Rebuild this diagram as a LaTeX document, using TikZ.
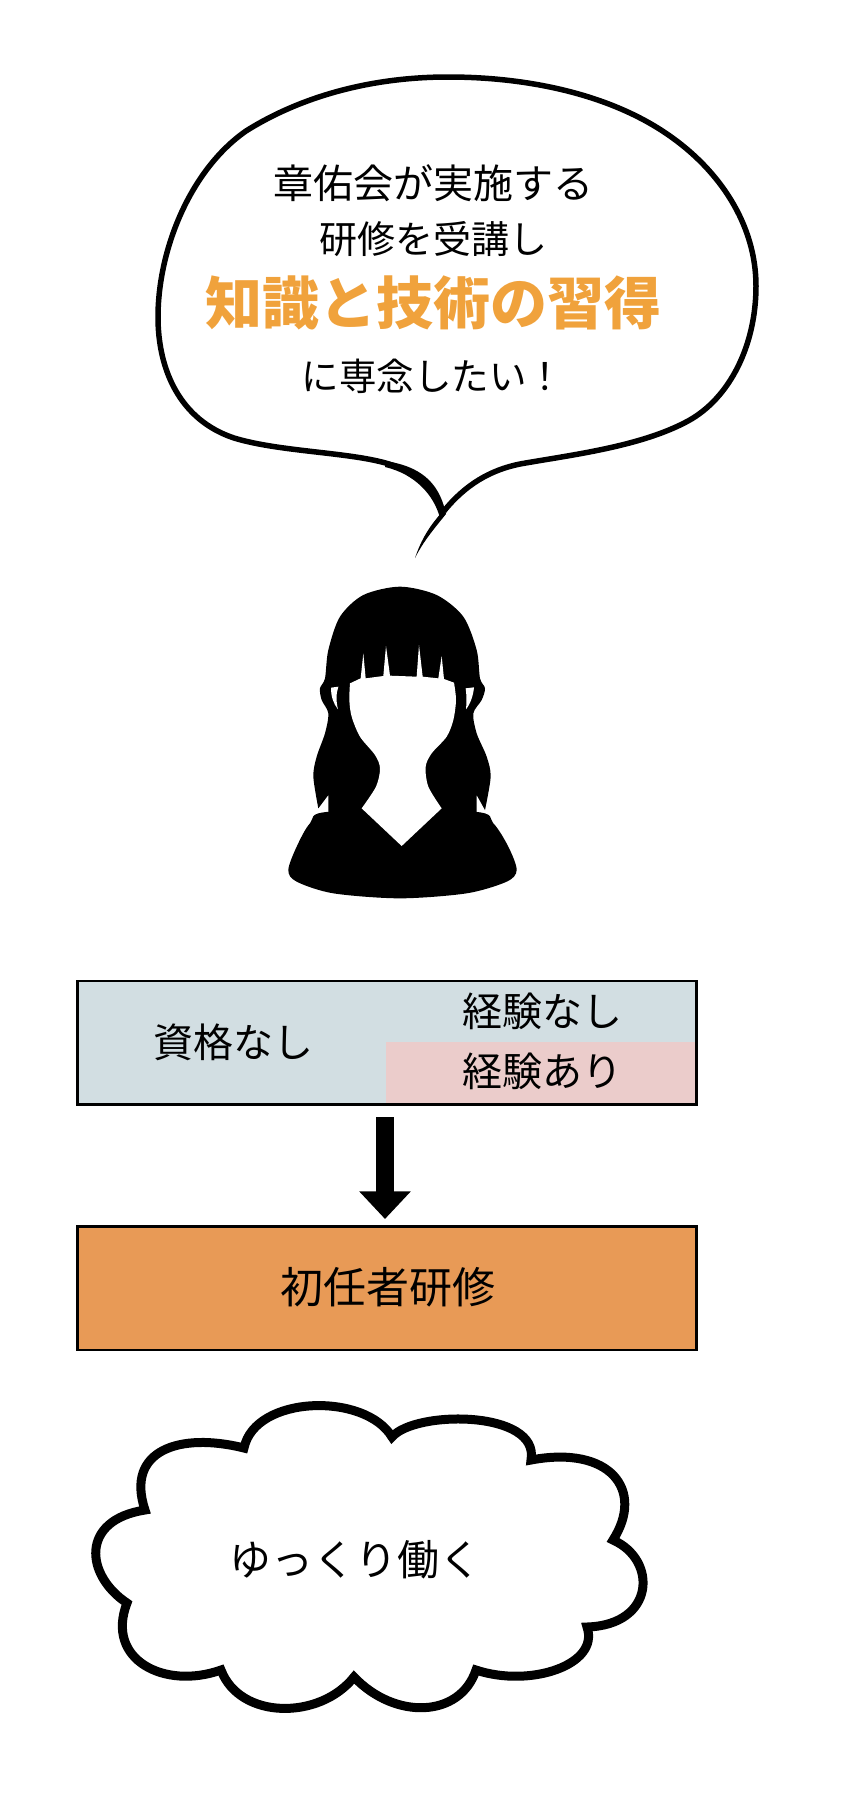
\documentclass[tikz,border=0pt]{standalone}
\usepackage{fontspec}
\setmainfont{Noto Sans CJK JP}
\usetikzlibrary{arrows.meta}
\definecolor{boxblue}{HTML}{D2DEE2}
\definecolor{boxpink}{HTML}{EBCCCB}
\definecolor{boxorange}{HTML}{E89A56}
\definecolor{textorange}{HTML}{F0A23C}
\tikzset{
  box/.style={rectangle, draw =black, line width=2.5pt, minimum width=619pt, minimum height=123.5pt, inner sep=0pt},
  label/.style={inner sep=0pt, font=\fontsize{40}{40}\selectfont},
  outline/.style={draw =black, line join=miter, miter limit=10}
}
\begin{document}
\begin{tikzpicture}[x=1pt,y=-1pt]
\useasboundingbox (0,0) rectangle (846,1797);
% speech bubble
\draw[outline, line width=5.5pt] (444,511) .. controls (465,485) and (490,470) .. (520,464)
 .. controls (570,455) and (640,447) .. (688,421)
 .. controls (730,398) and (756,345) .. (756,286)
 .. controls (756,225) and (720,170) .. (667,134)
 .. controls (610,95) and (530,77) .. (448,77)
 .. controls (370,77) and (300,97) .. (246,131)
 .. controls (190,170) and (158,250) .. (158,317)
 .. controls (158,370) and (180,420) .. (234,438)
 .. controls (280,452) and (350,452) .. (389,464)
 .. controls (415,472) and (435,488) .. (442,511);
\fill[black] (385,461) .. controls (420,466) and (438,482) .. (445,510) -- (440,518) .. controls (434,495) and (415,474) .. (385,467) -- cycle;
\fill[black] (445,508) -- (437,518) .. controls (427,530) and (420,543) .. (415,558) .. controls (423,542) and (433,530) .. (446,514) -- cycle;
\node[label] (a) at (433,183){章佑会が実施する};
\node[label, font=\fontsize{38}{38}\selectfont] (b) at (433,239){研修を受講し};
\node[inner sep=0pt, text=textorange, font=\fontsize{57}{57}\selectfont\bfseries] (c) at (433,303){知識と技術の習得};
\node[label, font=\fontsize{37.5}{37.5}\selectfont] (d) at (433,376){に専念したい！};
% woman
\begin{scope}[shift={(250,560)},scale=1/3]
\fill[black] plot[smooth] coordinates {(205,745) (190,650) (200,590) (225,520) (235,460) (215,420) (210,385) (225,355) (235,270) (270,170) (340,105) (450,80) (560,105) (640,170) (680,270) (690,355) (705,385) (695,420) (670,460) (680,520) (710,590) (722,650) (705,750)} -- (680,705) -- (680,800) -- (235,800) -- (235,705) -- cycle;
\fill[black] plot[smooth cycle] coordinates {(240,755) (180,790) (140,860) (115,930) (140,965) (250,1000) (450,1015) (650,1000) (770,965) (800,930) (775,860) (730,790) (670,755)};
\fill[white] (300,370) -- (332,355) -- (340,280) -- (347,355) -- (400,348) -- (408,258) -- (420,347) -- (500,350) -- (507,255) -- (518,350) -- (565,355) -- (575,288) -- (582,357) -- plot[smooth] coordinates {(612,368) (618,420) (610,480) (590,530) (545,580) (527,620) (535,680) (575,745)} -- (455,858) -- plot[smooth] coordinates {(335,745) (378,680) (390,625) (375,585) (330,530) (305,470) (298,420) (300,370)} -- cycle;
\fill[white] (243,383) -- (265,380) .. controls (258,400) and (258,425) .. (264,448) .. controls (250,430) and (243,410) .. (243,383) -- cycle;
\fill[white] (672,382) -- (647,385) .. controls (650,405) and (650,430) .. (648,448) .. controls (662,430) and (670,405) .. (672,382) -- cycle;
\end{scope}
% boxes
\node[box, draw=none, fill=boxblue] (e0) at (387,1042.5){};
\fill[boxpink] (386,1042) rectangle (696,1104);
\node[box] (e) at (387,1042.5){};
\node[box, fill=boxorange] (f) at (387,1288){};
\node[label] (g) at (233,1042){資格なし};
\node[label] (h) at (542,1011){経験なし};
\node[label] (i) at (542,1071){経験あり};
\node[label, font=\fontsize{43}{43}\selectfont] (j) at (388,1287){初任者研修};
\draw[line width=17.5pt, -{Triangle[width=50pt,length=27.7pt]}, shorten <=11.5pt, shorten >=6pt] ([xshift=-2pt]e.south)--([xshift=-2pt]f.north);
% cloud
\draw[outline, line width=9pt] (244,1448) .. controls (255,1395) and (365,1392) .. (392,1437)
 .. controls (415,1410) and (540,1410) .. (531,1460)
 .. controls (610,1445) and (645,1490) .. (613,1540)
 .. controls (658,1560) and (655,1625) .. (587,1627)
 .. controls (600,1665) and (530,1688) .. (476,1670)
 .. controls (460,1718) and (395,1720) .. (354,1677)
 .. controls (320,1720) and (240,1720) .. (221,1670)
 .. controls (165,1690) and (105,1660) .. (127,1603)
 .. controls (85,1575) and (80,1520) .. (145,1510)
 .. controls (125,1450) and (180,1432) .. (244,1448) -- cycle;
\node[label, font=\fontsize{42}{42}\selectfont] (k) at (355,1560){ゆっくり働く};
\end{tikzpicture}
\end{document}
